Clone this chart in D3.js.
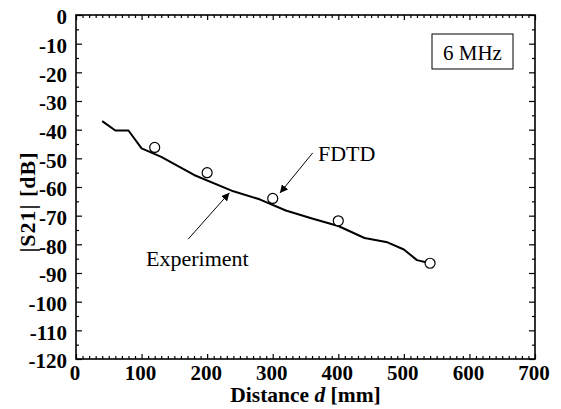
<!DOCTYPE html>
<html>
<head>
<meta charset="utf-8">
<script src="https://cdn.jsdelivr.net/npm/d3@7"></script>
<style>
  body { margin: 0; background: #fff; }
  svg { display: block; }
  text { font-family: "Liberation Serif", "Times New Roman", serif; fill: #000; }
</style>
</head>
<body>
<div id="chart"></div>
<script>
// measured curve (solid line)
var expDist = [40, 60, 80, 100, 130, 180, 240, 280, 320, 360, 400, 440, 475, 500, 520, 540];
var expDb = [-37, -40.3, -40.3, -46.5, -49.5, -55.8, -61.5, -64.3, -68.2, -71, -73.6, -77.8, -79.3, -81.8, -85.5, -86.6];

// FDTD points (circles)
var fdtdDist = [120, 200, 300, 400, 540];
var fdtdDb = [-46.2, -55, -64, -71.8, -86.6];

var xTicks = [0, 100, 200, 300, 400, 500, 600, 700];
var yTicks = [0, -10, -20, -30, -40, -50, -60, -70, -80, -90, -100, -110, -120];

// annotations: [fromDist, fromDb, toDist, toDb]
var fdtdArrow = [361, -48.1, 311, -62.1];
var expArrow = [171, -78.2, 234, -62];

var width = 561, height = 409;
var margin = { top: 15, right: 26, bottom: 50, left: 76 };

var svg = d3.select('#chart').append('svg')
  .attr('width', width)
  .attr('height', height);

var x = d3.scaleLinear().domain([0, 700]).range([margin.left, width - margin.right]);
var y = d3.scaleLinear().domain([-120, 0]).range([height - margin.bottom, margin.top]);

var minorX = d3.range(0, 701, 10).filter(function (d) { return d % 100 !== 0; });
var minorY = d3.range(-115, 0, 10);

function styleAxis(g) {
  g.select('.domain').remove();
  g.selectAll('line').attr('stroke', '#000').attr('stroke-width', 1.2);
}

// inner ticks on all four sides
svg.append('g').attr('transform', 'translate(0,' + y(-120) + ')')
  .call(d3.axisTop(x).tickValues(xTicks).tickSize(5).tickFormat(''))
  .call(styleAxis);
svg.append('g').attr('transform', 'translate(0,' + y(-120) + ')')
  .call(d3.axisTop(x).tickValues(minorX).tickSize(3).tickFormat(''))
  .call(styleAxis);
svg.append('g').attr('transform', 'translate(0,' + y(0) + ')')
  .call(d3.axisBottom(x).tickValues(xTicks).tickSize(5).tickFormat(''))
  .call(styleAxis);
svg.append('g').attr('transform', 'translate(0,' + y(0) + ')')
  .call(d3.axisBottom(x).tickValues(minorX).tickSize(3).tickFormat(''))
  .call(styleAxis);
svg.append('g').attr('transform', 'translate(' + x(0) + ',0)')
  .call(d3.axisRight(y).tickValues(yTicks).tickSize(6).tickFormat(''))
  .call(styleAxis);
svg.append('g').attr('transform', 'translate(' + x(0) + ',0)')
  .call(d3.axisRight(y).tickValues(minorY).tickSize(3).tickFormat(''))
  .call(styleAxis);
svg.append('g').attr('transform', 'translate(' + x(700) + ',0)')
  .call(d3.axisLeft(y).tickValues(yTicks).tickSize(6).tickFormat(''))
  .call(styleAxis);
svg.append('g').attr('transform', 'translate(' + x(700) + ',0)')
  .call(d3.axisLeft(y).tickValues(minorY).tickSize(3).tickFormat(''))
  .call(styleAxis);

// frame
svg.append('rect')
  .attr('x', x(0)).attr('y', y(0))
  .attr('width', x(700) - x(0)).attr('height', y(-120) - y(0))
  .attr('fill', 'none').attr('stroke', '#000').attr('stroke-width', 1.6);

// tick labels
svg.append('g').selectAll('text')
  .data(xTicks)
  .enter().append('text')
  .attr('x', function (d) { return x(d) - 1; })
  .attr('y', y(-120) + 21)
  .attr('text-anchor', 'middle')
  .style('font-size', '21px').style('font-weight', 'bold')
  .text(function (d) { return d; });

svg.append('g').selectAll('text')
  .data(yTicks)
  .enter().append('text')
  .attr('x', x(0) - 9)
  .attr('y', function (d) { return y(d) + 2; })
  .attr('dy', '0.35em')
  .attr('text-anchor', 'end')
  .style('font-size', '21px').style('font-weight', 'bold')
  .text(function (d) { return d; });

// axis titles
var xt = svg.append('text')
  .attr('x', (x(0) + x(700)) / 2)
  .attr('y', 402)
  .attr('text-anchor', 'middle')
  .style('font-size', '21.5px').style('font-weight', 'bold');
xt.append('tspan').text('Distance ');
xt.append('tspan').style('font-style', 'italic').text('d');
xt.append('tspan').text(' [mm]');

svg.append('text')
  .attr('transform', 'translate(35,202) rotate(-90)')
  .attr('text-anchor', 'middle')
  .style('font-size', '22px').style('font-weight', 'bold')
  .style('letter-spacing', '1px')
  .text('|S21| [dB]');

// experiment line
var line = d3.line()
  .x(function (d, i) { return x(expDist[i]); })
  .y(function (d) { return y(d); });

svg.append('path')
  .datum(expDb)
  .attr('d', line)
  .attr('fill', 'none')
  .attr('stroke', '#000')
  .attr('stroke-width', 2)
  .attr('stroke-linejoin', 'round');

// FDTD circles
svg.append('g').selectAll('circle')
  .data(fdtdDb)
  .enter().append('circle')
  .attr('cx', function (d, i) { return x(fdtdDist[i]); })
  .attr('cy', function (d) { return y(d); })
  .attr('r', 5)
  .attr('fill', '#fff')
  .attr('stroke', '#000')
  .attr('stroke-width', 1.2);

// arrows
svg.append('defs').append('marker')
  .attr('id', 'head')
  .attr('viewBox', '0 0 10 10')
  .attr('refX', 10).attr('refY', 5)
  .attr('markerWidth', 8).attr('markerHeight', 8)
  .attr('markerUnits', 'userSpaceOnUse')
  .attr('orient', 'auto')
  .append('path')
  .attr('d', 'M0,0L10,5L0,10Z')
  .attr('fill', '#000');

[fdtdArrow, expArrow].forEach(function (a) {
  svg.append('line')
    .attr('x1', x(a[0])).attr('y1', y(a[1]))
    .attr('x2', x(a[2])).attr('y2', y(a[3]))
    .attr('stroke', '#000').attr('stroke-width', 1)
    .attr('marker-end', 'url(#head)');
});

svg.append('text')
  .attr('x', 318).attr('y', 161)
  .style('font-size', '22px')
  .text('FDTD');

svg.append('text')
  .attr('x', 146).attr('y', 266)
  .style('font-size', '22px')
  .text('Experiment');

// frequency box
var box = svg.append('g');
box.append('rect')
  .attr('x', 432).attr('y', 34)
  .attr('width', 81).attr('height', 35)
  .attr('fill', '#fff').attr('stroke', '#000').attr('stroke-width', 1);
box.append('text')
  .attr('x', 472.5).attr('y', 60)
  .attr('text-anchor', 'middle')
  .style('font-size', '21px')
  .text('6 MHz');
</script>
</body>
</html>
